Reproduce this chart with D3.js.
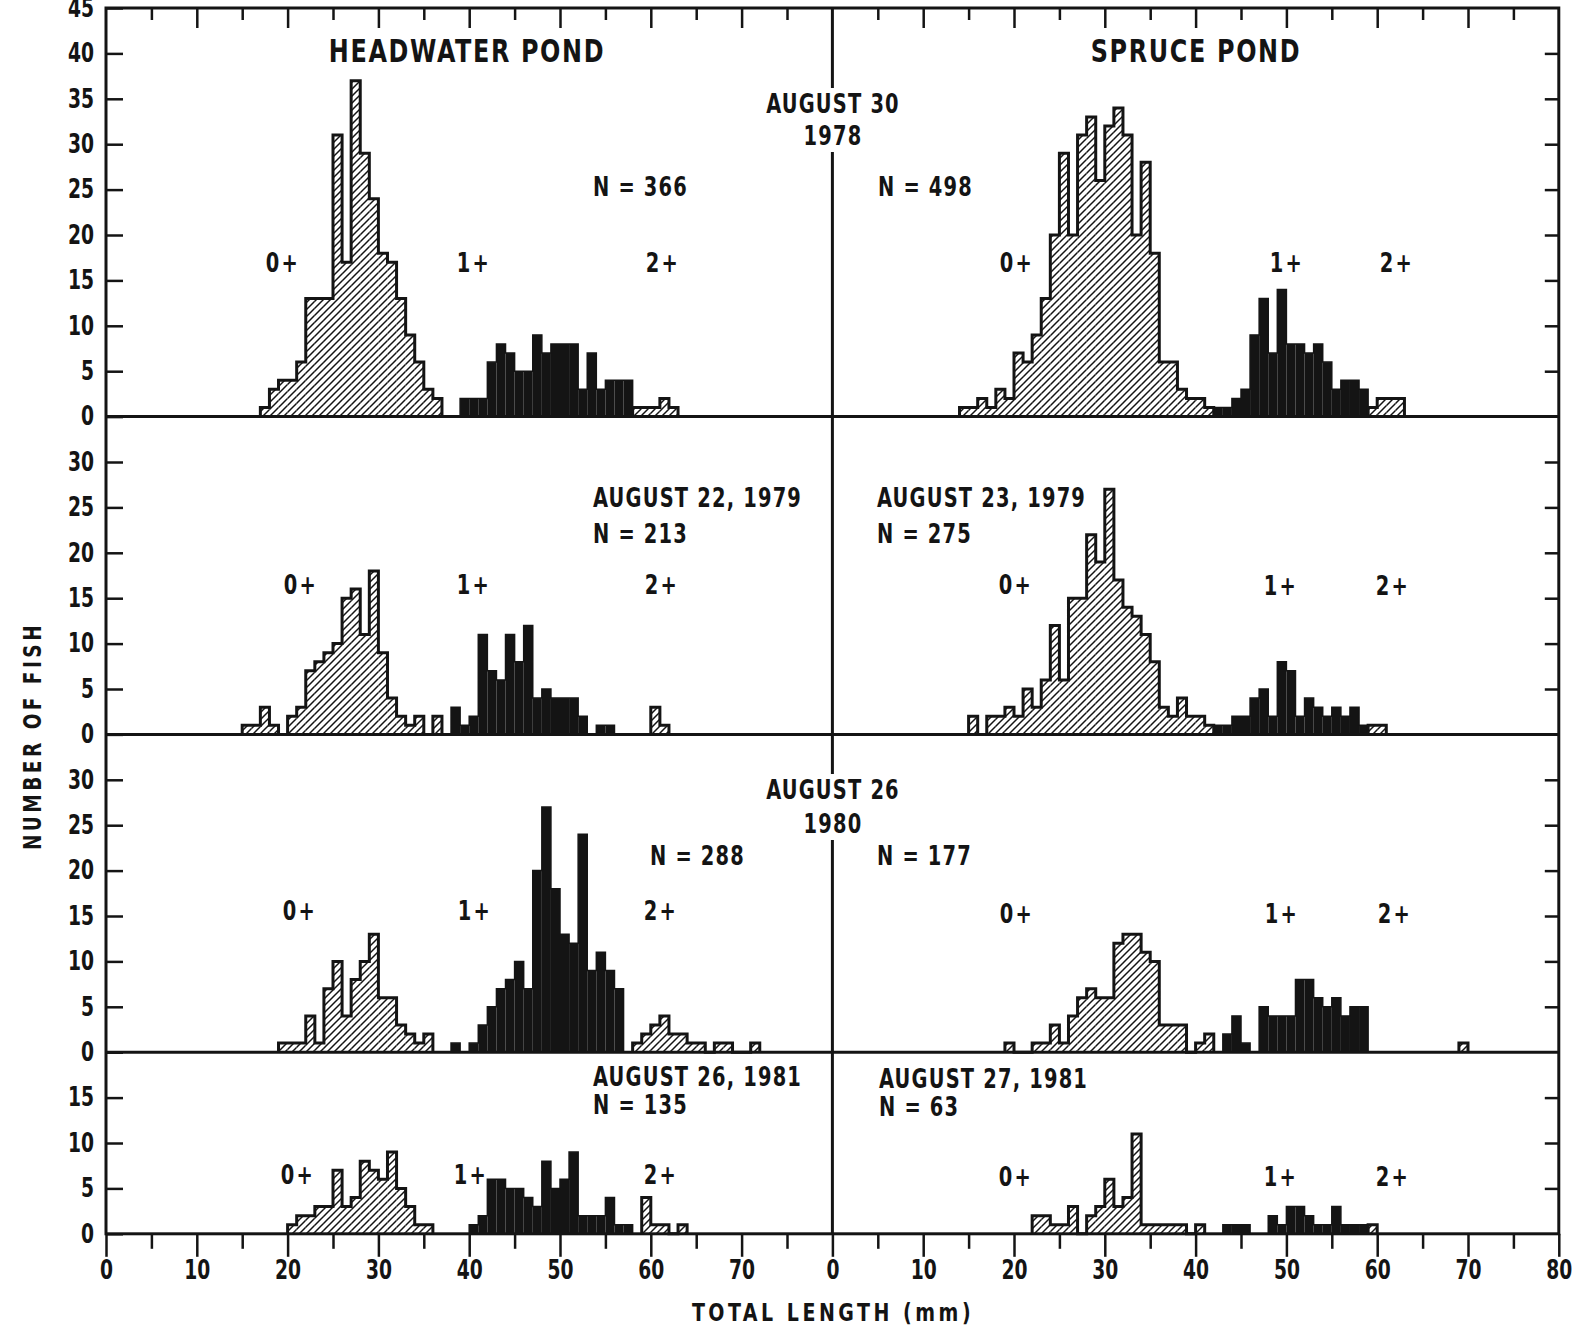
<!DOCTYPE html>
<html>
<head>
<meta charset="utf-8">
<script src="https://cdnjs.cloudflare.com/ajax/libs/d3/7.8.5/d3.min.js"></script>
<style>
body { margin: 0; background: #fff; }
svg text { font-family: "Liberation Sans Narrow", "DejaVu Sans Condensed", sans-serif; font-weight: bold; fill: #141414; }
</style>
</head>
<body>
<svg></svg>
<script>
var width = 1580;
var height = 1329;

// number of fish per 1 mm length class, "from" = first length class (mm)
// age 0+ (hatched), 1+ (black), 2+ (hatched)
var hw1978Age0 = {from: 17, n: [1,3,4,4,6,13,13,13,31,17,37,29,24,18,17,13,9,6,3,2]};
var hw1978Age1 = {from: 39, n: [2,2,2,6,8,7,5,5,9,7,8,8,8,3,7,3,4,4,4]};
var hw1978Age2 = {from: 58, n: [1,1,1,2,1]};

var sp1978Age0 = {from: 14, n: [1,1,2,1,3,2,7,6,9,13,20,29,20,31,33,26,32,34,31,20,28,18,6,6,3,2,2,1]};
var sp1978Age1 = {from: 42, n: [1,1,2,3,9,13,7,14,8,8,7,8,6,3,4,4,3]};
var sp1978Age2 = {from: 59, n: [1,2,2,2]};

var hw1979Age0 = {from: 15, n: [1,1,3,1,0,2,3,7,8,9,10,15,16,11,18,9,4,2,1,2,0,2]};
var hw1979Age1 = {from: 38, n: [3,1,2,11,7,6,11,8,12,4,5,4,4,4,2,0,1,1]};
var hw1979Age2 = {from: 60, n: [3,1]};

var sp1979Age0 = {from: 15, n: [2,0,2,2,3,2,5,3,6,12,6,15,15,22,19,27,17,14,13,11,8,3,2,4,2,2,1]};
var sp1979Age1 = {from: 42, n: [1,1,2,2,4,5,2,8,7,2,4,3,2,3,2,3,1]};
var sp1979Age2 = {from: 59, n: [1,1]};

var hw1980Age0 = {from: 19, n: [1,1,1,4,1,7,10,4,8,10,13,6,6,3,2,1,2]};
var hw1980Age1 = {from: 38, n: [1,0,1,3,5,7,8,10,7,20,27,18,13,12,24,9,11,9,7]};
var hw1980Age2 = {from: 58, n: [1,2,3,4,2,2,1,1,0,1,1,0,0,1]};

var sp1980Age0 = {from: 19, n: [1,0,0,1,1,3,1,4,6,7,6,6,12,13,13,11,10,3,3,3,0,1,2]};
var sp1980Age1 = {from: 43, n: [2,4,1,0,5,4,4,4,8,8,6,5,6,4,5,5]};
var sp1980Age2 = {from: 69, n: [1]};

var hw1981Age0 = {from: 20, n: [1,2,2,3,3,7,3,4,8,7,6,9,5,3,1,1]};
var hw1981Age1 = {from: 40, n: [1,2,6,6,5,5,4,3,8,5,6,9,2,2,2,4,1,1]};
var hw1981Age2 = {from: 59, n: [4,1,1,0,1]};

var sp1981Age0 = {from: 22, n: [2,2,1,1,3,0,2,3,6,3,4,11,1,1,1,1,1,0,1]};
var sp1981Age1 = {from: 43, n: [1,1,1,0,0,2,1,3,3,2,1,1,3,1,1,1]};
var sp1981Age2 = {from: 59, n: [1]};

var pondNames = ["HEADWATER POND", "SPRUCE POND"];
var sampleDates = [["AUGUST 30", "1978"], ["AUGUST 22, 1979", "AUGUST 23, 1979"], ["AUGUST 26", "1980"], ["AUGUST 26, 1981", "AUGUST 27, 1981"]];
var sampleSizes = [[366, 498], [213, 275], [288, 177], [135, 63]];
var ageClasses = ["0+", "1+", "2+"];
var rowMax = [45, 35, 35, 20];
var rowLabels = [d3.range(0, 50, 5), d3.range(0, 35, 5), d3.range(0, 35, 5), d3.range(0, 20, 5)];

var panels = [
    {row: 0, col: 0, groups: [hw1978Age0, hw1978Age1, hw1978Age2]},
    {row: 0, col: 1, groups: [sp1978Age0, sp1978Age1, sp1978Age2]},
    {row: 1, col: 0, groups: [hw1979Age0, hw1979Age1, hw1979Age2]},
    {row: 1, col: 1, groups: [sp1979Age0, sp1979Age1, sp1979Age2]},
    {row: 2, col: 0, groups: [hw1980Age0, hw1980Age1, hw1980Age2]},
    {row: 2, col: 1, groups: [sp1980Age0, sp1980Age1, sp1980Age2]},
    {row: 3, col: 0, groups: [hw1981Age0, hw1981Age1, hw1981Age2]},
    {row: 3, col: 1, groups: [sp1981Age0, sp1981Age1, sp1981Age2]}
];

//LAYOUT
var ink = '#141414';
var plotLeft = 106;
var plotTop = 8;
var unit = 9.08; // px per mm and per fish
var panelW = 80 * unit;
var plotRight = plotLeft + 2 * panelW;

var rowBase = [];
var acc = plotTop;
rowMax.forEach(function(m) { acc += m * unit; rowBase.push(acc); });
var plotBottom = rowBase[3];

function xScale(col) {
    return d3.scaleLinear().domain([0, 80]).range([plotLeft + col * panelW, plotLeft + (col + 1) * panelW]);
}
function yScale(row) {
    return d3.scaleLinear().domain([0, rowMax[row]]).range([rowBase[row], rowBase[row] - rowMax[row] * unit]);
}

var svg = d3.select('svg').attr('width', width).attr('height', height);

//hatch pattern for the 0+ and 2+ fish
svg.append('defs').append('pattern')
    .attr('id', 'hatch')
    .attr('patternUnits', 'userSpaceOnUse')
    .attr('width', 7).attr('height', 7)
  .append('path')
    .attr('d', 'M-1,1 l2,-2 M0,7 l7,-7 M6,8 l2,-2')
    .attr('stroke', ink)
    .attr('stroke-width', 1.5);

//HISTOGRAMS
panels.forEach(function(p) {
    var x = xScale(p.col);
    var y = yScale(p.row);
    var g = svg.append('g');
    p.groups.forEach(function(grp, k) {
        var bins = grp.n.map(function(c, i) { return {mm: grp.from + i, c: c}; });
        g.selectAll(null)
            .data(bins.filter(d => d.c > 0))
            .enter()
            .append('rect')
            .attr('x', d => x(d.mm))
            .attr('width', d => x(d.mm + 1) - x(d.mm))
            .attr('y', d => y(d.c))
            .attr('height', d => y(0) - y(d.c))
            .attr('fill', k === 1 ? ink : 'url(#hatch)');
        //step outline round each group
        var pts = [{mm: grp.from, c: 0}].concat(bins).concat([{mm: grp.from + grp.n.length, c: 0}]);
        g.append('path')
            .attr('d', d3.line().x(d => x(d.mm)).y(d => y(d.c)).curve(d3.curveStepAfter)(pts))
            .attr('fill', 'none')
            .attr('stroke', ink)
            .attr('stroke-width', k === 1 ? 1.5 : 3);
    });
});

//AXES
function styleAxis(sel) {
    sel.attr('font-family', null).attr('font-size', 26);
    sel.select('.domain').remove();
    sel.selectAll('line').attr('stroke', ink).attr('stroke-width', 2.5);
    sel.selectAll('text').attr('transform', function() {
        // narrow the lettering like the original stencil figures
        var x = +d3.select(this).attr('x') || 0;
        return `translate(${x * 0.2},0) scale(0.8,1)`;
    });
}

rowMax.forEach(function(m, r) {
    var y = yScale(r);
    svg.append('g')
        .attr('transform', `translate(${plotLeft},0)`)
        .call(d3.axisLeft(y).tickValues(rowLabels[r]).tickSizeInner(-17).tickSizeOuter(0).tickPadding(12))
        .call(styleAxis);
    svg.append('g')
        .attr('transform', `translate(${plotRight},0)`)
        .call(d3.axisRight(y).tickValues(d3.range(5, m, 5)).tickSizeInner(-14).tickSizeOuter(0).tickFormat(''))
        .call(styleAxis);
});

[0, 1].forEach(function(col) {
    var x = xScale(col);
    var major = col === 0 ? d3.range(0, 80, 10) : d3.range(0, 81, 10);
    var minor = d3.range(5, 80, 10);
    svg.append('g')
        .attr('transform', `translate(0,${plotBottom})`)
        .call(d3.axisBottom(x).tickValues(major).tickSizeInner(23).tickSizeOuter(0).tickPadding(4))
        .call(styleAxis);
    svg.append('g')
        .attr('transform', `translate(0,${plotBottom})`)
        .call(d3.axisBottom(x).tickValues(minor).tickSizeInner(15).tickSizeOuter(0).tickFormat(''))
        .call(styleAxis);
    svg.append('g')
        .attr('transform', `translate(0,${plotTop})`)
        .call(d3.axisTop(x).tickValues(d3.range(10, 80, 10)).tickSizeInner(-20).tickSizeOuter(0).tickFormat(''))
        .call(styleAxis);
    svg.append('g')
        .attr('transform', `translate(0,${plotTop})`)
        .call(d3.axisTop(x).tickValues(minor).tickSizeInner(-12).tickSizeOuter(0).tickFormat(''))
        .call(styleAxis);
});

//frame, row separators and the divider between ponds
var frame = svg.append('g').attr('stroke', ink).attr('stroke-width', 3).attr('fill', 'none');
frame.append('rect').attr('x', plotLeft).attr('y', plotTop).attr('width', plotRight - plotLeft).attr('height', plotBottom - plotTop);
rowBase.slice(0, 3).forEach(function(b) {
    frame.append('line').attr('x1', plotLeft).attr('x2', plotRight).attr('y1', b).attr('y2', b);
});
frame.append('line').attr('x1', plotLeft + panelW).attr('x2', plotLeft + panelW).attr('y1', plotTop).attr('y2', plotBottom);

//TEXTS
function label(txt, x, y, anchor, size, spacing, sx, rot) {
    return svg.append('text')
        .attr('transform', `translate(${x},${y}) rotate(${rot || 0}) scale(${sx || 0.8},1)`)
        .attr('text-anchor', anchor || 'start')
        .attr('dominant-baseline', 'central')
        .attr('font-size', size || 27)
        .attr('letter-spacing', spacing === undefined ? 1.5 : spacing)
        .text(txt);
}

label(pondNames[0], 467, 51, 'middle', 32, 2, 0.83);
label(pondNames[1], 1196, 51, 'middle', 32, 2, 0.83);

//dates shared by both ponds sit on the divider, which is broken behind them
[[0, 104, 136], [2, 790, 824]].forEach(function(d) {
    var knock = svg.append('rect').attr('fill', '#fff');
    label(sampleDates[d[0]][0], 833, d[1], 'middle');
    label(sampleDates[d[0]][1], 833, d[2], 'middle');
    knock.attr('x', 822).attr('width', 22)
        .attr('y', d[1] - 16).attr('height', d[2] - d[1] + 32);
});
label(sampleDates[1][0], 593, 498);
label(sampleDates[1][1], 877, 498);
label(sampleDates[3][0], 593, 1077);
label(sampleDates[3][1], 879, 1079);

var nPos = [[[593, 187], [878, 187]], [[593, 534], [877, 534]], [[650, 856], [877, 856]], [[593, 1105], [879, 1107]]];
sampleSizes.forEach(function(pair, r) {
    pair.forEach(function(n, c) {
        label('N = ' + n, nPos[r][c][0], nPos[r][c][1]);
    });
});

var agePos = [
    [[[283, 263], [474, 263], [663, 263]], [[1017, 263], [1287, 263], [1397, 263]]],
    [[[301, 585], [474, 585], [662, 585]], [[1016, 585], [1281, 586], [1393, 586]]],
    [[[300, 911], [475, 911], [661, 911]], [[1017, 914], [1282, 914], [1395, 914]]],
    [[[298, 1175], [471, 1175], [661, 1175]], [[1016, 1177], [1281, 1177], [1393, 1177]]]
];
agePos.forEach(function(row) {
    row.forEach(function(panel) {
        panel.forEach(function(pos, k) {
            label(ageClasses[k], pos[0], pos[1], 'middle', 27, 3);
        });
    });
});

//axis titles
label('TOTAL LENGTH (mm)', 833, 1313, 'middle', 24, 4, 0.88);
label('NUMBER OF FISH', 32, 736, 'middle', 24, 4, 0.86, -90);
</script>
</body>
</html>
